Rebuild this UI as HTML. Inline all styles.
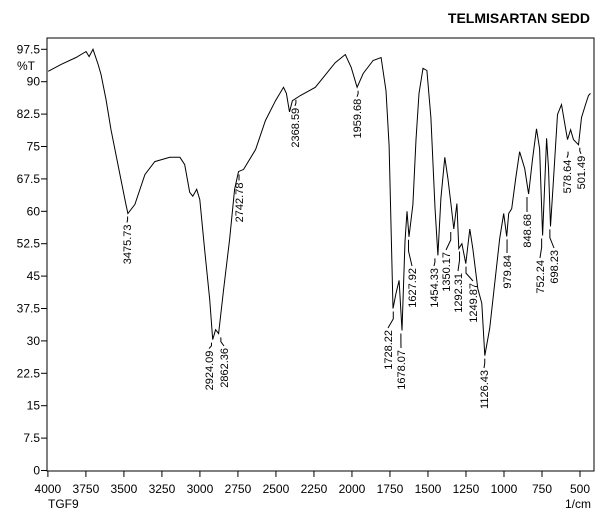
<!DOCTYPE html>
<html><head><meta charset="utf-8"><style>
html,body{margin:0;padding:0;background:#fff;}
svg{display:block;font-family:"Liberation Sans",Arial,sans-serif;}
</style></head><body>
<svg id="chart" width="612" height="522">
<text x="590" y="23" text-anchor="end" font-size="14" font-weight="bold">TELMISARTAN SEDD</text>
<rect x="47" y="38" width="547" height="433" fill="none" stroke="#000" stroke-width="1"/>
<g id="axes"></g>
<path id="spectrum" fill="none" stroke="#000" stroke-width="1"/>
<g id="peaks"></g>
<text x="17" y="70" font-size="12">%T</text>
<text x="48" y="508" font-size="12">TGF9</text>
<text x="565" y="508" font-size="12">1/cm</text>
</svg>
<script>
const xTicks=[4000,3750,3500,3250,3000,2750,2500,2250,2000,1750,1500,1250,1000,750,500];
const yTicks=[0,7.5,15,22.5,30,37.5,45,52.5,60,67.5,75,82.5,90,97.5];
const wavenumbers=[3998,3913,3815,3749,3729,3703,3670,3651,3618,3585,3533,3487,3474,3428,3362,3297,3198,3132,3100,3067,3047,3021,3001,2969,2936,2916,2897,2877,2844,2805,2772,2746,2713,2634,2569,2503,2450,2431,2411,2392,2339,2241,2110,2044,2005,1966,1926,1861,1808,1776,1756,1730,1710,1690,1671,1651,1638,1625,1599,1579,1559,1533,1507,1481,1454,1435,1415,1389,1369,1349,1330,1310,1297,1277,1251,1225,1205,1172,1146,1126,1094,1061,1028,1002,982,969,949,923,897,864,838,812,786,766,746,720,707,694,674,648,622,582,562,543,510,490,464,444,431];
const transmittance=[92.4,94,95.6,97,95.8,97.5,94,91.7,85.9,78.9,69.7,61.6,59.5,61.6,68.5,71.5,72.5,72.5,70.8,64.4,63.5,65.1,62.7,51.2,39.6,30.3,32.6,31.7,41.9,53.5,65.1,69.2,69.7,74.3,81,85.6,88.7,87.3,83,85.6,86.8,88.7,94.4,96.3,93.3,88.7,91.9,94.9,95.6,87.9,75.2,37.5,41,44,32.4,53,60,54.1,61.6,76.6,87.3,93.1,92.6,81.7,60.8,49.8,63,72.5,67.6,61.8,55.9,61.8,51.4,52.5,47.9,55.9,51.4,42.1,38.7,26.6,32.9,43.3,53.7,59.5,54.2,59.5,60.6,67.6,73.8,69.9,64,72.2,79.1,74.5,54.4,76.9,70,56.5,67.4,82.4,84.7,76.6,78.9,76.6,75.4,81.7,84.7,86.8,87.3];
const peakLabels=["3475.73","2924.09","2862.36","2742.78","2368.59","1959.68","1728.22","1678.07","1627.92","1454.33","1350.17","1292.31","1249.87","1126.43","979.84","848.68","752.24","698.23","578.64","501.49"];
const peakWn=[3475.73,2924.09,2862.36,2742.78,2368.59,1959.68,1728.22,1678.07,1627.92,1454.33,1350.17,1292.31,1249.87,1126.43,979.84,848.68,752.24,698.23,578.64,501.49];
const peakT=[59.5,30.3,31.5,69.2,86.5,88.6,37.5,32.4,54.1,49.8,55.9,51.4,47.9,26.6,54.2,64,54.4,56.5,74.5,75.4];
/* label layout (pixel placement, not data) */
const labelLayoutX=[127,209,224,239,295,357,388,401,412,434,446,458,473,484,507,527,540,554,567,581];
const labelLayoutTop=[220,348,348,182,105,95,330,350,268,268,252,273,283,370,255,214,260,250,152,152];
const NS="http://www.w3.org/2000/svg";
function xs(w){return 580-(w-500)*0.15203;}
function ys(t){return 470.5-t*4.32;}
const axes=document.getElementById('axes');
function mk(tag,attrs,parent){const e=document.createElementNS(NS,tag);for(const k in attrs)e.setAttribute(k,attrs[k]);parent.appendChild(e);return e;}
xTicks.forEach(w=>{
  const l=mk('line',{x1:xs(w),x2:xs(w),y1:471,y2:477,stroke:'#000'},axes);
  
  
  const t=mk('text',{x:xs(w),y:493,'text-anchor':'middle','font-size':12},axes);
  t.textContent=w;
  
  
});
yTicks.forEach(v=>{
  const l=mk('line',{x1:41,x2:47,y1:ys(v),y2:ys(v),stroke:'#000'},axes);
  
  
  const t=mk('text',{x:40,y:ys(v)+4,'text-anchor':'end','font-size':12},axes);
  t.textContent=v;
  
  
});
let d='';
wavenumbers.forEach((w,i)=>{d+=(i?'L':'M')+xs(w).toFixed(1)+','+ys(transmittance[i]).toFixed(1);});
document.getElementById('spectrum').setAttribute('d',d);
const pk=document.getElementById('peaks');
peakLabels.forEach((lab,i)=>{
  const x=xs(peakWn[i]), y0=ys(peakT[i])+3;
  const lx=labelLayoutX[i];
  const top=Math.max(labelLayoutTop[i], y0+8);
  const ln=mk('polyline',{points:x+','+y0+' '+x+','+(y0+(top-y0)*0.4)+' '+lx+','+(top-2),fill:'none',stroke:'#000'},pk);
  
  
  const t=mk('text',{x:0,y:0,'text-anchor':'end','font-size':11,transform:'translate('+(lx+4)+','+top+') rotate(-90)'},pk);
  t.textContent=lab;
  
  
});
</script>
</body></html>
